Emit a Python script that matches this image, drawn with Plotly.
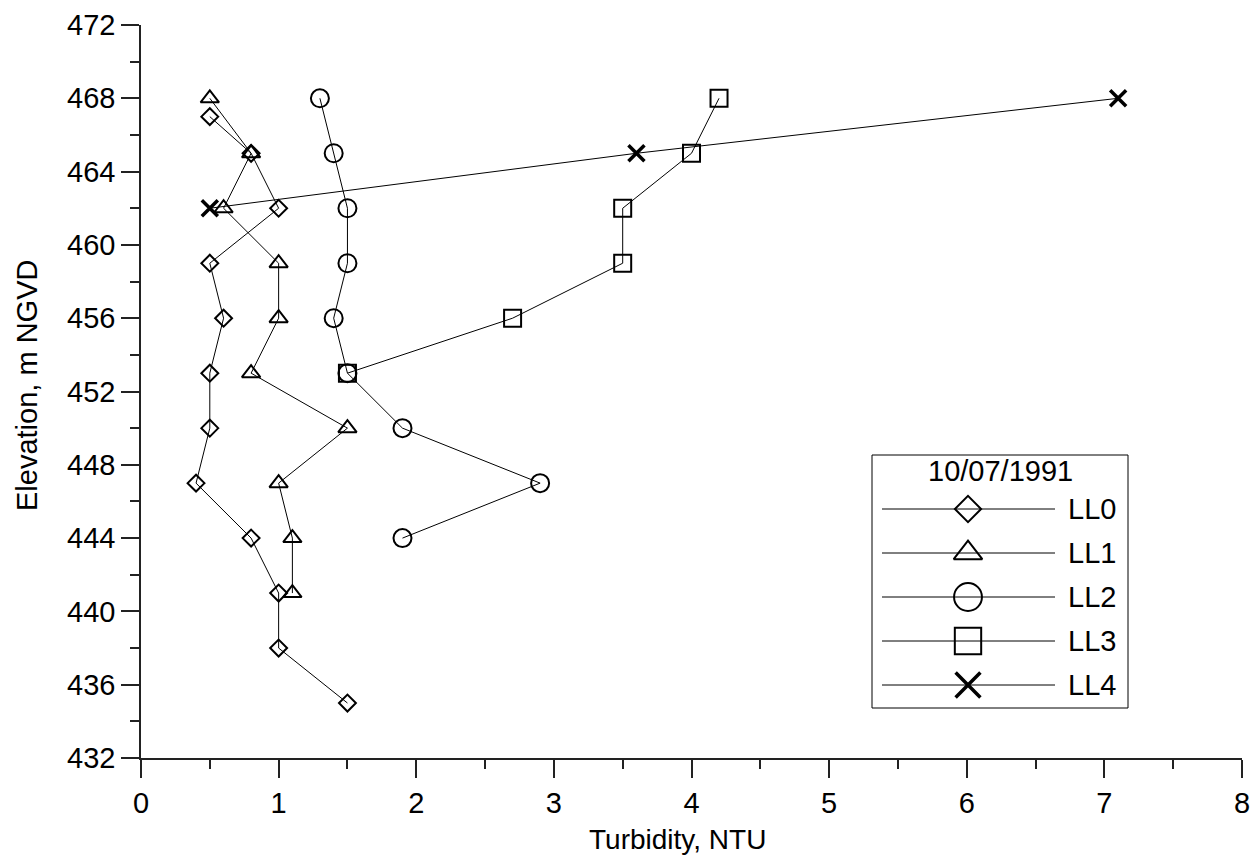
import plotly.graph_objects as go

# Turbidity profiles (NTU) by elevation (m NGVD), one list pair per station
ll0_elev = [467, 465, 462, 459, 456, 453, 450, 447, 444, 441, 438, 435]
ll0_ntu = [0.5, 0.8, 1.0, 0.5, 0.6, 0.5, 0.5, 0.4, 0.8, 1.0, 1.0, 1.5]

ll1_elev = [468, 465, 462, 459, 456, 453, 450, 447, 444, 441]
ll1_ntu = [0.5, 0.8, 0.6, 1.0, 1.0, 0.8, 1.5, 1.0, 1.1, 1.1]

ll2_elev = [468, 465, 462, 459, 456, 453, 450, 447, 444]
ll2_ntu = [1.3, 1.4, 1.5, 1.5, 1.4, 1.5, 1.9, 2.9, 1.9]

ll3_elev = [468, 465, 462, 459, 456, 453]
ll3_ntu = [4.2, 4.0, 3.5, 3.5, 2.7, 1.5]

ll4_elev = [468, 465, 462]
ll4_ntu = [7.1, 3.6, 0.5]

station_names = ["LL0", "LL1", "LL2", "LL3", "LL4"]
survey_date = "10/07/1991"
x_title = "Turbidity, NTU"
y_title = "Elevation, m NGVD"

FONT = "Arial, 'Liberation Sans', sans-serif"
FS = 29
W, H = 1259, 857
ML, MR, MT, MB = 141, 17, 25, 99
PW, PH = W - ML - MR, H - MT - MB

# marker style per station: (symbol, size, outline width)
styles = [
    ("diamond-open", 13, 2),
    ("triangle-up-open", 16, 2),
    ("circle-open", 18, 2),
    ("square-open", 17, 2),
    ("x-thin-open", 16, 3.5),
]
series = [
    (ll0_ntu, ll0_elev),
    (ll1_ntu, ll1_elev),
    (ll2_ntu, ll2_elev),
    (ll3_ntu, ll3_elev),
    (ll4_ntu, ll4_elev),
]

fig = go.Figure()
for name, (xs, ys), (sym, size, lw) in zip(station_names, series, styles):
    fig.add_trace(go.Scatter(
        x=xs, y=ys, name=name, mode="lines+markers",
        line=dict(color="black", width=1),
        marker=dict(symbol=sym, size=size, color="black",
                    line=dict(color="black", width=lw)),
        showlegend=False,
    ))


def px_to_paper(px, py):
    return (px - ML) / PW, (H - MB - py) / PH


# hand-built legend box: long sample lines with a centred marker
box_l, box_r, box_t, box_b = 872, 1128, 455, 708
line_l, line_r, mark_x, text_x = 882, 1055, 968, 1066
title_y = 471
row_y = [509, 553, 597, 641, 685]

shapes = []
annotations = []
x0, y0 = px_to_paper(box_l, box_b)
x1, y1 = px_to_paper(box_r, box_t)
shapes.append(dict(type="rect", xref="paper", yref="paper", x0=x0, y0=y0,
                   x1=x1, y1=y1, line=dict(color="black", width=1),
                   fillcolor="white", layer="below"))
tx, ty = px_to_paper((box_l + box_r) / 2, title_y)
annotations.append(dict(xref="paper", yref="paper", x=tx, y=ty,
                        text=survey_date, showarrow=False,
                        xanchor="center", yanchor="middle",
                        font=dict(family=FONT, size=FS, color="black")))

for name, ry, (sym, size, lw) in zip(station_names, row_y, styles):
    la, yy = px_to_paper(line_l, ry)
    lb, _ = px_to_paper(line_r, ry)
    shapes.append(dict(type="line", xref="paper", yref="paper", x0=la, x1=lb,
                       y0=yy, y1=yy, line=dict(color="black", width=1)))
    mx, _ = px_to_paper(mark_x, ry)
    fig.add_trace(go.Scatter(
        x=[mx], y=[yy], xaxis="x2", yaxis="y2", mode="markers",
        marker=dict(symbol=sym, size=size * 1.55, color="black",
                    line=dict(color="black", width=lw)),
        showlegend=False, hoverinfo="skip",
    ))
    lx, _ = px_to_paper(text_x, ry)
    annotations.append(dict(xref="paper", yref="paper", x=lx, y=yy,
                            text=name, showarrow=False,
                            xanchor="left", yanchor="middle",
                            font=dict(family=FONT, size=FS, color="black")))

# axis titles
ax, ay = px_to_paper(677, 839)
annotations.append(dict(xref="paper", yref="paper", x=ax, y=ay, text=x_title,
                        showarrow=False, xanchor="center", yanchor="middle",
                        font=dict(family=FONT, size=28, color="black")))
bx, by = px_to_paper(27, 386)
annotations.append(dict(xref="paper", yref="paper", x=bx, y=by, text=y_title,
                        showarrow=False, xanchor="center", yanchor="middle",
                        textangle=-90,
                        font=dict(family=FONT, size=FS, color="black")))

axis_common = dict(
    showgrid=False, zeroline=False, showline=True, linecolor="#222",
    linewidth=1.5, ticks="outside", ticklen=18, tickwidth=1.5,
    tickcolor="#222", tickfont=dict(family=FONT, size=FS, color="black"),
)

fig.update_layout(
    width=W, height=H,
    margin=dict(l=ML, r=MR, t=MT, b=MB, autoexpand=False),
    paper_bgcolor="white", plot_bgcolor="white",
    xaxis=dict(range=[0, 8], dtick=1, tick0=0,
               minor=dict(dtick=0.5, ticklen=9, tickwidth=1.5,
                          tickcolor="#222", ticks="outside"),
               **axis_common),
    yaxis=dict(range=[432, 472], dtick=4, tick0=432,
               minor=dict(dtick=2, ticklen=9, tickwidth=1.5,
                          tickcolor="#222", ticks="outside"),
               **axis_common),
    xaxis2=dict(overlaying="x", range=[0, 1], visible=False),
    yaxis2=dict(overlaying="y", range=[0, 1], visible=False),
    shapes=shapes,
    annotations=annotations,
    showlegend=False,
)

fig.write_html("out.html")
